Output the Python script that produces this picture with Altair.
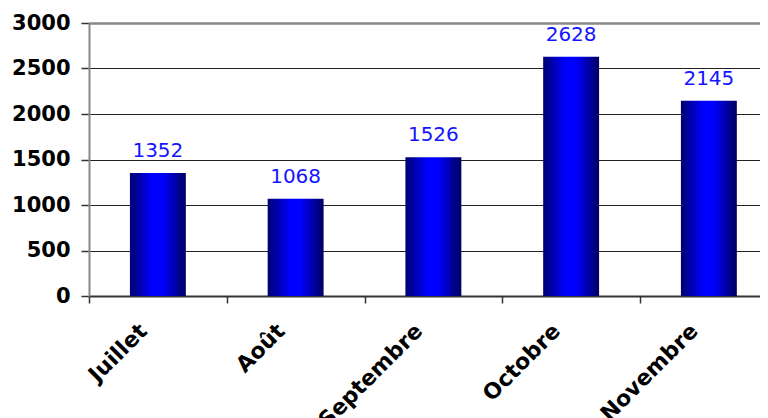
import json
import altair as alt
import pandas as pd

months = ["Juillet", "Août", "Septembre", "Octobre", "Novembre"]
values = [1352, 1068, 1526, 2628, 2145]
y_ticks = [0, 500, 1000, 1500, 2000, 2500, 3000]

idx = list(range(len(months)))
df = pd.DataFrame({"i": idx, "mois": months, "valeur": values})

STEP = 137.75          # pixel width of one category slot
VIEW_W = 671           # visible plot width (plot continues past the window edge)
HALF = STEP / 2

grad = alt.Gradient(
    gradient="linear", x1=0, x2=1, y1=0, y2=0,
    stops=[
        alt.GradientStop(color="#000070", offset=0),
        alt.GradientStop(color="#0000ff", offset=0.4),
        alt.GradientStop(color="#0000ff", offset=0.58),
        alt.GradientStop(color="#000060", offset=1),
    ],
)

FONT = "DejaVu Sans"

x = alt.X(
    "i:Q", title=None,
    scale=alt.Scale(domain=[-0.5, -0.5 + VIEW_W / STEP], nice=False, zero=False, padding=0),
    axis=alt.Axis(
        values=idx,
        labelExpr=json.dumps(months, ensure_ascii=False) + "[datum.value]",
        labelAngle=-45, labelAlign="right", labelBaseline="alphabetic",
        labelFont=FONT, labelFontWeight="bold", labelFontSize=22, labelColor="black",
        labelPadding=29, tickOffset=-HALF, labelOffset=HALF - 10,
        tickSize=7, tickColor="#333333", tickWidth=1.5,
        domainColor="#333333", domainWidth=2, grid=False,
        labelOverlap=False, labelBound=False, labelFlush=False,
    ),
)

y = alt.Y(
    "valeur:Q", title=None,
    scale=alt.Scale(domain=[0, 3000], nice=False, padding=0),
    axis=alt.Axis(
        values=y_ticks, format="d", labelFont=FONT, labelFontWeight="bold", labelFontSize=21,
        labelColor="black", labelPadding=11, tickSize=8, tickColor="#333333",
        tickWidth=1.5, domainColor="#888888", domainWidth=2,
        gridColor=alt.condition("datum.value == 3000", alt.value("#888888"), alt.value("#222222")),
        gridWidth=alt.condition("datum.value == 3000", alt.value(2.5), alt.value(1)),
    ),
)

base = alt.Chart(df)
bars = base.mark_bar(color=grad, width=STEP * 0.406).encode(x=x, y=y)
labels = base.mark_text(
    dy=-16, baseline="alphabetic", align="center", fontSize=20, font=FONT, color="#1414ff"
).encode(x=x, y=y, text="valeur:Q")

chart = (
    alt.layer(bars, labels)
    .properties(
        width=VIEW_W, height=273,
        padding={"left": 81, "top": 15, "right": 0, "bottom": 122},
        autosize="none",
    )
    .configure_view(stroke=None)
)

chart.save("out.html", embed_options={"renderer": "svg", "actions": False})
